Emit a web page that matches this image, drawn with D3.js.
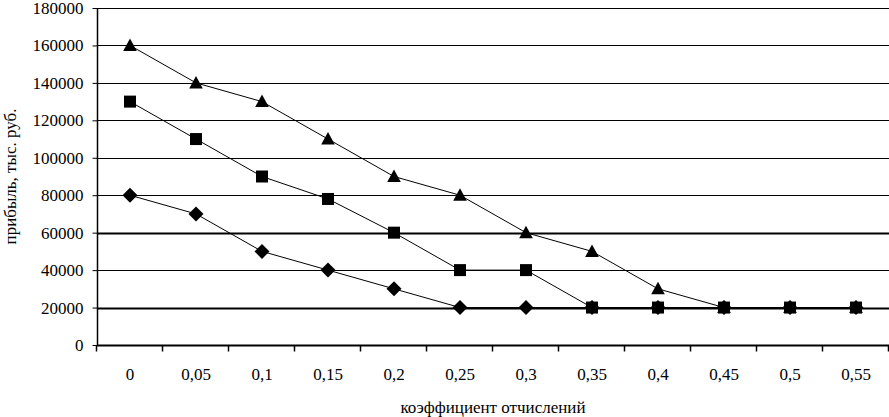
<!DOCTYPE html>
<html><head><meta charset="utf-8">
<script src="https://cdn.jsdelivr.net/npm/d3@7"></script>
<style>body{margin:0;background:#fff}svg{display:block}text{font-family:"Liberation Serif","Times New Roman",serif;fill:#000}</style>
</head><body><svg id="c" width="889" height="417"></svg>
<script>
const categories = ["0","0,05","0,1","0,15","0,2","0,25","0,3","0,35","0,4","0,45","0,5","0,55"];
const seriesTriangle = [160000,140000,130000,110000,90000,80000,60000,50000,30000,20000,20000,20000];
const seriesDiamond  = [80000,70000,50000,40000,30000,20000,20000,20000,20000,20000,20000,20000];
const seriesSquare   = [130000,110000,90000,78000,60000,40000,40000,20000,20000,20000,20000,20000];
const yTicks = [0,20000,40000,60000,80000,100000,120000,140000,160000,180000];
const xTitle = "коэффициент отчислений";
const yTitle = "прибыль, тыс. руб.";

const svg = d3.select("#c");
const m = {l:97, r:889, t:8, b:345};
const x = d3.scaleBand().domain(categories).range([m.l, m.r]);
const y = d3.scaleLinear().domain([0,180000]).range([m.b, m.t]);

// gridlines
svg.append("g").selectAll("line").data(yTicks.filter(d=>d>0)).join("line")
  .attr("x1", m.l).attr("x2", m.r)
  .attr("y1", d=>Math.round(y(d))+0.5).attr("y2", d=>Math.round(y(d))+0.5)
  .attr("stroke","#000").attr("stroke-width", d=>(d===20000||d===60000)?2:1);

// y axis
const ya = svg.append("g").attr("transform",`translate(${m.l+0.5},0)`)
  .call(d3.axisLeft(y).tickValues(yTicks).tickSize(5).tickPadding(9).tickFormat(d=>String(d)));
ya.select(".domain").attr("stroke","#000").attr("stroke-width",1.5).attr("d",`M0,${m.t}V${m.b}`);
ya.selectAll(".tick line").attr("stroke","#000");
ya.selectAll("text").attr("font-size",17).attr("font-family","Liberation Serif");

// x axis
const xa = svg.append("g").attr("transform",`translate(0,${m.b+0.5})`)
  .call(d3.axisBottom(x).tickSize(0).tickPadding(22));
xa.select(".domain").attr("stroke","#000").attr("stroke-width",2).attr("d",`M${m.l},0H${m.r}`);
xa.selectAll("text").attr("font-size",17).attr("font-family","Liberation Serif");
const bounds = categories.map(c=>x(c)).concat([x(categories[categories.length-1])+x.bandwidth()]);
xa.append("g").selectAll("line").data(bounds).join("line")
  .attr("x1",d=>Math.round(d)-0.5).attr("x2",d=>Math.round(d)-0.5).attr("y1",0).attr("y2",6)
  .attr("stroke","#000").attr("stroke-width",1.5);

// titles
svg.append("text").attr("x",(m.l+m.r)/2).attr("y",413).attr("text-anchor","middle")
  .attr("font-size",17).text(xTitle);
svg.append("text").attr("transform",`translate(16,${(m.t+m.b)/2}) rotate(-90)`)
  .attr("text-anchor","middle").attr("font-size",17).text(yTitle);

const cx = c => x(c)+x.bandwidth()/2;
const line = d3.line().x((d,i)=>cx(categories[i])).y(d=>y(d));
const sym = {
  tri: "M0,-7L6.8,5.5L-6.8,5.5Z",
  dia: "M0,-7.5L7.5,0L0,7.5L-7.5,0Z",
  sq:  "M-6,-6H6V6H-6Z"
};
function drawSeries(data, s){
  const g = svg.append("g");
  g.append("path").attr("d", line(data)).attr("fill","none").attr("stroke","#000").attr("stroke-width",1);
  g.selectAll("path.m").data(data).join("path").attr("class","m")
    .attr("transform",(d,i)=>`translate(${cx(categories[i])},${y(d)})`)
    .attr("d", sym[s]).attr("fill","#000");
}
drawSeries(seriesTriangle,"tri");
drawSeries(seriesDiamond,"dia");
drawSeries(seriesSquare,"sq");
</script></body></html>
